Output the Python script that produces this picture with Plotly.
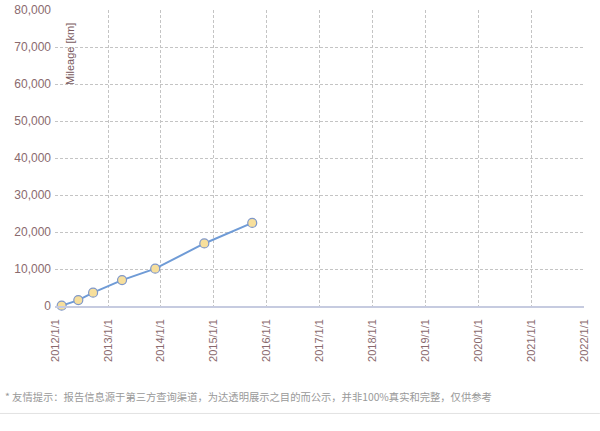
import plotly.graph_objects as go

# mileage records
dates = ['2012-02-16', '2012-06-10', '2012-09-20', '2013-04-08',
         '2013-11-23', '2014-10-28', '2015-09-24']
mileage = [100, 1600, 3600, 7000, 10100, 16900, 22450]

# x axis ticks (one per year)
tick_dates = ['%d-01-01' % y for y in range(2012, 2023)]
tick_text = ['%d/1/1' % y for y in range(2012, 2023)]

y_ticks = [0, 10000, 20000, 30000, 40000, 50000, 60000, 70000, 80000]

label_color = '#8a6a6e'
grid_color = '#c4c4c4'

fig = go.Figure()
fig.add_trace(go.Scatter(
    x=dates, y=mileage, mode='lines+markers',
    line=dict(color='#6f9bd6', width=2),
    marker=dict(size=9, color='#f7df9c', line=dict(color='#7f97c8', width=1.2)),
    showlegend=False, cliponaxis=False,
))

fig.update_layout(
    width=600, height=431,
    margin=dict(l=55, r=16, t=10, b=125),
    paper_bgcolor='white', plot_bgcolor='white',
    font=dict(family='Liberation Sans, Arial, sans-serif', size=12, color=label_color),
    xaxis=dict(
        range=['2012-01-01', '2022-01-01'], automargin=False,
        tickvals=tick_dates, ticktext=tick_text, tickangle=-90,
        showgrid=True, gridcolor=grid_color, griddash='3px,2px', gridwidth=1,
        showline=True, linecolor='#c6cbe0', linewidth=1.5,
        zeroline=False, ticks='', ticklabelstandoff=7,
        tickfont=dict(size=11, color=label_color),
    ),
    yaxis=dict(
        range=[0, 80000], tickvals=y_ticks, tickformat=',d', automargin=False,
        showgrid=True, gridcolor=grid_color, griddash='3px,2px', gridwidth=1,
        zeroline=False, showline=False, ticks='', ticklabelstandoff=3,
        tickfont=dict(size=12, color=label_color),
    ),
)

# axis title sits inside the plot area
fig.add_annotation(
    text='Mileage [km]', textangle=-90, xref='paper', yref='paper',
    x=0.028, y=0.962, xanchor='center', yanchor='top', showarrow=False,
    font=dict(size=11, color='#7a5a5e'),
)

# footer note and divider
fig.add_annotation(
    text='* 友情提示：报告信息源于第三方查询渠道，为达透明展示之目的而公示，并非100%真实和完整，仅供参考',
    xref='paper', yref='paper', x=-0.098, y=-0.305, xanchor='left', yanchor='middle',
    showarrow=False, font=dict(family='Noto Sans CJK SC', size=10.3, color='#999999'),
)
fig.add_shape(
    type='line', xref='paper', yref='paper', x0=-0.104, x1=1.03, y0=-0.363, y1=-0.363,
    line=dict(color='#e2e2e2', width=1),
)

# drop the default page margin so the figure sits at the window corner
fig.write_html("out.html", config={'displayModeBar': False},
               post_script="document.body.style.margin='0px';")
